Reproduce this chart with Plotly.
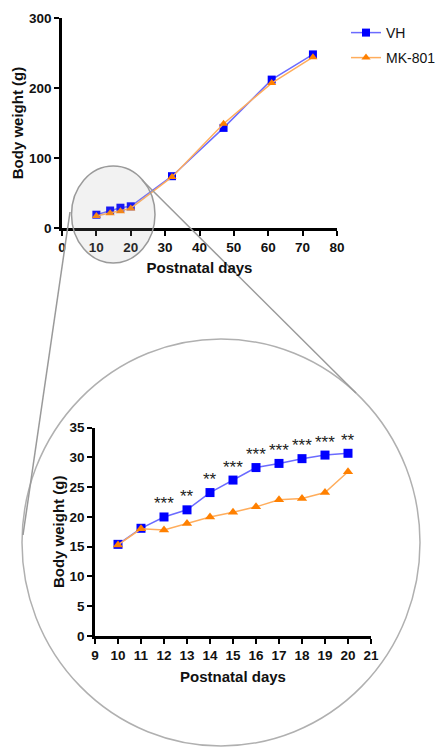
import plotly.graph_objects as go

W, H = 436, 747

# ---- data: full time course (top panel) ----
days_all = [10, 14, 17, 20, 32, 47, 61, 73]
vh_all = [19, 25, 29, 31, 74, 143, 212, 248]
mk_all = [17, 21, 24, 28, 73, 149, 207, 244]

# ---- data: zoom on postnatal days 10-20 (bottom panel) ----
days_zoom = [10, 11, 12, 13, 14, 15, 16, 17, 18, 19, 20]
vh_zoom = [15.4, 18.1, 20.0, 21.2, 24.1, 26.2, 28.3, 29.0, 29.8, 30.4, 30.7]
mk_zoom = [15.3, 18.0, 17.8, 18.9, 20.0, 20.8, 21.7, 22.9, 23.1, 24.1, 27.6]

sig_days = [12, 13, 14, 15, 16, 17, 18, 19, 20]
sig_labels = ["***", "**", "**", "***", "***", "***", "***", "***", "**"]

top_xticks = [0, 10, 20, 30, 40, 50, 60, 70, 80]
top_yticks = [0, 100, 200, 300]
bot_xticks = list(range(9, 22))
bot_yticks = [0, 5, 10, 15, 20, 25, 30, 35]

BLUE_M = "#0000ff"
BLUE_L = "#6b6bff"
ORANGE_M = "#ff8000"
ORANGE_L = "#ffad5c"
FONT = "Liberation Sans, Arial, sans-serif"


def px(x):
    return x / W


def py(y):
    return 1 - y / H


fig = go.Figure()

# top panel
fig.add_trace(go.Scatter(
    x=days_all, y=vh_all, name="VH", mode="lines+markers",
    line=dict(color=BLUE_L, width=1.5),
    marker=dict(symbol="square", size=8, color=BLUE_M),
    xaxis="x", yaxis="y", cliponaxis=False, legend="legend"))
fig.add_trace(go.Scatter(
    x=days_all, y=mk_all, name="MK-801", mode="lines+markers",
    line=dict(color=ORANGE_L, width=1.5),
    marker=dict(symbol="triangle-up", size=8, color=ORANGE_M),
    xaxis="x", yaxis="y", cliponaxis=False, legend="legend2"))

# bottom panel
fig.add_trace(go.Scatter(
    x=days_zoom, y=vh_zoom, name="VH", mode="lines+markers",
    line=dict(color=BLUE_L, width=1.5),
    marker=dict(symbol="square", size=9, color=BLUE_M),
    xaxis="x2", yaxis="y2", cliponaxis=False, showlegend=False))
fig.add_trace(go.Scatter(
    x=days_zoom, y=mk_zoom, name="MK-801", mode="lines+markers",
    line=dict(color=ORANGE_L, width=1.5),
    marker=dict(symbol="triangle-up", size=9, color=ORANGE_M),
    xaxis="x2", yaxis="y2", cliponaxis=False, showlegend=False))

# significance stars
vh_lookup = dict(zip(days_zoom, vh_zoom))
for d, lab in zip(sig_days, sig_labels):
    fig.add_annotation(x=d, y=vh_lookup[d], xref="x2", yref="y2", text=lab,
                       showarrow=False, yanchor="middle", yshift=13,
                       font=dict(family=FONT, size=17, color="#222"))

axis_common = dict(
    showline=True, linecolor="black", linewidth=2.5,
    ticks="outside", ticklen=5, tickwidth=2, tickcolor="black",
    showgrid=False, zeroline=False, automargin=False,
    tickfont=dict(family=FONT, size=13.5, color="#111", weight="bold"),
)
title_font = dict(family=FONT, size=15, color="#111", weight="bold")

fig.update_layout(
    width=W, height=H, autosize=False,
    margin=dict(l=0, r=0, t=0, b=0, autoexpand=False),
    paper_bgcolor="white", plot_bgcolor="rgba(0,0,0,0)",
    xaxis=dict(domain=[px(62), px(337)], range=[0, 80], tickvals=top_xticks,
               anchor="y", title=dict(text="Postnatal days", font=title_font, standoff=9),
               **axis_common),
    yaxis=dict(domain=[py(228), py(18)], range=[0, 300], tickvals=top_yticks,
               anchor="x", title=dict(text="Body weight (g)", font=title_font, standoff=2),
               **axis_common),
    xaxis2=dict(domain=[px(95), px(371)], range=[9, 21], tickvals=bot_xticks,
                anchor="y2", title=dict(text="Postnatal days", font=title_font, standoff=10),
                **axis_common),
    yaxis2=dict(domain=[py(636), py(427.7)], range=[0, 35], tickvals=bot_yticks,
                anchor="x2", title=dict(text="Body weight (g)", font=title_font, standoff=2),
                **axis_common),
    legend=dict(x=px(346), y=py(17), xanchor="left", yanchor="top",
                font=dict(family=FONT, size=14, color="#111"),
                bgcolor="rgba(0,0,0,0)", itemwidth=30, tracegroupgap=0),
    legend2=dict(x=px(346), y=py(42), xanchor="left", yanchor="top",
                 font=dict(family=FONT, size=14, color="#111"),
                 bgcolor="rgba(0,0,0,0)", itemwidth=30, tracegroupgap=0),
    showlegend=True,
)

# magnifier decorations
fig.add_shape(type="circle", xref="paper", yref="paper",
              x0=px(71.5), x1=px(155), y0=py(263), y1=py(166),
              line=dict(color="#9a9a9a", width=1.5),
              fillcolor="rgba(170,170,170,0.15)", layer="above")
fig.add_shape(type="circle", xref="paper", yref="paper",
              x0=px(22), x1=px(420), y0=py(746), y1=py(339),
              line=dict(color="#b0b0b0", width=1.5), layer="below")
fig.add_shape(type="line", xref="paper", yref="paper",
              x0=px(70), y0=py(212), x1=px(23), y1=py(535),
              line=dict(color="#9a9a9a", width=1.5))
fig.add_shape(type="line", xref="paper", yref="paper",
              x0=px(142), y0=py(180), x1=px(356), y1=py(393),
              line=dict(color="#9a9a9a", width=1.5))

fig.write_html("out.html",
               config={"displayModeBar": False},
               post_script="document.body.style.margin='0px';"
                           "document.body.style.overflow='hidden';")
